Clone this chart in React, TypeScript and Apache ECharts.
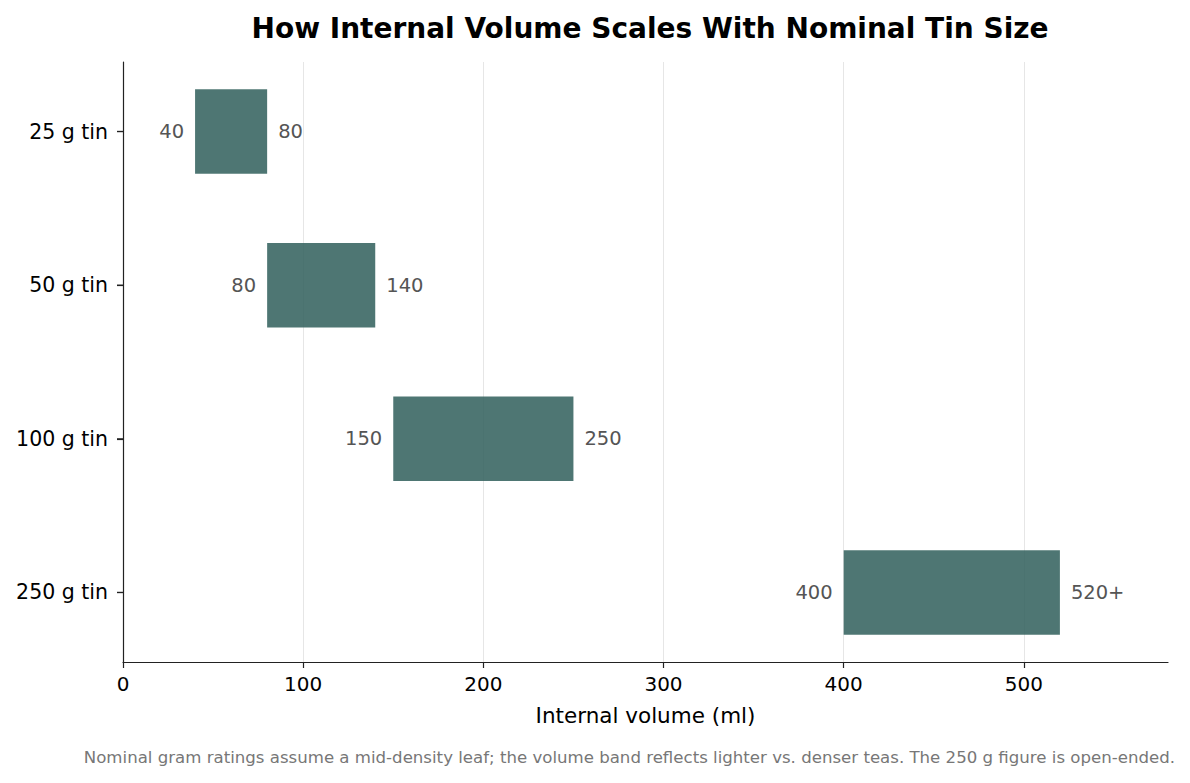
import { useEffect, useRef } from 'react';
import * as echarts from 'echarts';

// 名义规格与容积区间
const categories = ['25 g tin', '50 g tin', '100 g tin', '250 g tin'];
const lowValues = [40, 80, 150, 400];
const highValues = [80, 140, 250, 520];
const highLabels = ['80', '140', '250', '520+'];
const xTicks = [0, 100, 200, 300, 400, 500];

const FONT = '"DejaVu Sans", sans-serif';
const BAR_COLOR = 'rgba(47, 94, 90, 0.85)';
const BAR_HEIGHT = 0.55;

export default function App() {
  const chartRef = useRef<HTMLDivElement>(null);

  useEffect(() => {
    document.body.style.margin = '0';
    if (!chartRef.current) return;
    const chart = echarts.init(chartRef.current, undefined, { renderer: 'svg' });

    const data = categories.map((_, i) => [i, lowValues[i], highValues[i]]);

    const option: echarts.EChartsOption = {
      animation: false,
      backgroundColor: '#ffffff',
      textStyle: { fontFamily: FONT },
      title: {
        text: 'How Internal Volume Scales With Nominal Tin Size',
        left: 645,
        top: 9,
        textAlign: 'center',
        textStyle: { fontSize: 28, fontWeight: 'bold', color: '#000', fontFamily: FONT },
      },
      grid: { left: 123, right: 22, top: 62, bottom: 121 },
      xAxis: {
        type: 'value',
        min: 0,
        max: 580,
        name: 'Internal volume (ml)',
        nameLocation: 'middle',
        nameGap: 42,
        nameTextStyle: { fontSize: 21.5, color: '#000', fontFamily: FONT },
        axisLine: { show: true, onZero: false, lineStyle: { color: '#222', width: 1.2 } },
        axisTick: { show: true, length: 6, customValues: xTicks, lineStyle: { color: '#222', width: 1.2 } },
        axisLabel: { customValues: xTicks, fontSize: 20, color: '#000', margin: 12, fontFamily: FONT },
        splitLine: { show: true, lineStyle: { color: '#e6e6e6', width: 1 } },
      },
      yAxis: {
        type: 'value',
        min: -0.4525,
        max: 3.4525,
        inverse: true,
        axisLine: { show: true, onZero: false, lineStyle: { color: '#222', width: 1.2 } },
        axisTick: { show: true, length: 6, customValues: [0, 1, 2, 3], lineStyle: { color: '#222', width: 1.2 } },
        axisLabel: {
          customValues: [0, 1, 2, 3],
          formatter: (v: number) => categories[Math.round(v)] ?? '',
          fontSize: 20.5,
          color: '#000',
          margin: 15,
          fontFamily: FONT,
        },
        splitLine: { show: false },
      },
      series: [
        {
          type: 'custom',
          encode: { x: [1, 2], y: 0 },
          clip: false,
          data,
          renderItem: (params: any, api: any) => {
            const idx = api.value(0);
            const lo = api.value(1);
            const hi = api.value(2);
            const start = api.coord([lo, idx]);
            const end = api.coord([hi, idx]);
            const axisPt = api.coord([0, idx]);
            const h = api.size([0, BAR_HEIGHT])[1];
            return {
              type: 'group',
              children: [
                // y 轴刻度线
                {
                  type: 'line',
                  shape: { x1: axisPt[0] - 6, y1: axisPt[1], x2: axisPt[0], y2: axisPt[1] },
                  style: { stroke: '#222', lineWidth: 1.2 },
                },
                {
                  type: 'rect',
                  shape: { x: start[0], y: start[1] - h / 2, width: end[0] - start[0], height: h },
                  style: { fill: BAR_COLOR },
                },
                {
                  type: 'text',
                  style: {
                    text: String(lowValues[params.dataIndex]),
                    x: start[0] - 11,
                    y: start[1],
                    align: 'right',
                    verticalAlign: 'middle',
                    fill: '#555',
                    fontSize: 19.5,
                    fontFamily: FONT,
                  },
                },
                {
                  type: 'text',
                  style: {
                    text: highLabels[params.dataIndex],
                    x: end[0] + 11,
                    y: end[1],
                    align: 'left',
                    verticalAlign: 'middle',
                    fill: '#555',
                    fontSize: 19.5,
                    fontFamily: FONT,
                  },
                },
              ],
            };
          },
        },
      ],
      graphic: [
        {
          type: 'text',
          right: 15,
          top: 749,
          style: {
            text: 'Nominal gram ratings assume a mid-density leaf; the volume band reflects lighter vs. denser teas. The 250 g figure is open-ended.',
            fill: '#777',
            fontSize: 16.6,
            fontFamily: FONT,
          },
        },
      ],
    };

    chart.setOption(option);
    return () => chart.dispose();
  }, []);

  return <div ref={chartRef} style={{ width: 1190, height: 783 }} />;
}
